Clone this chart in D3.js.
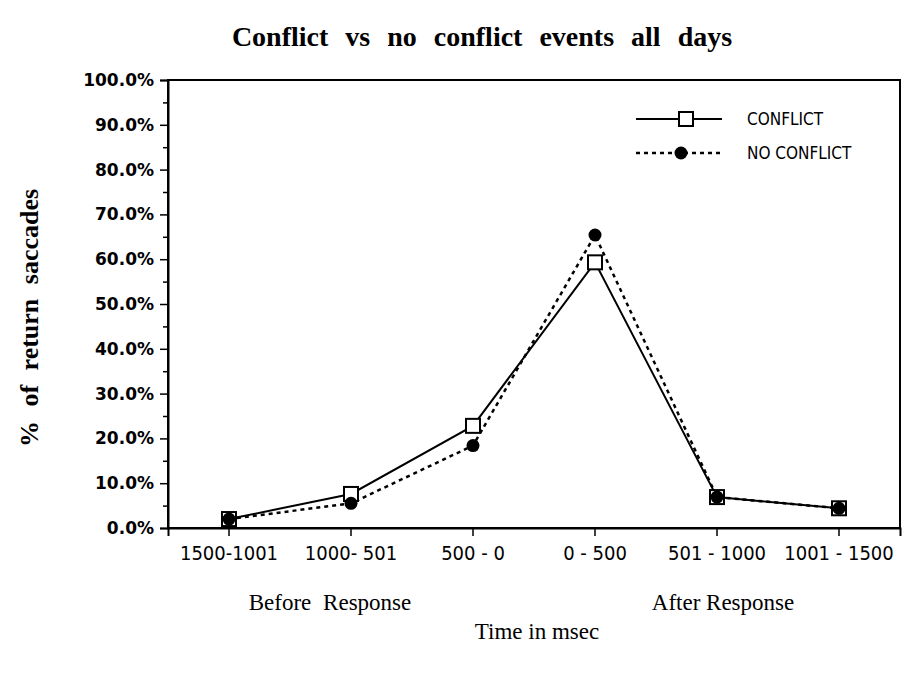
<!DOCTYPE html>
<html>
<head>
<meta charset="utf-8">
<script src="https://cdn.jsdelivr.net/npm/d3@7"></script>
<style>
  body { margin: 0; background: #fff; }
  svg { display: block; }
</style>
</head>
<body>
<svg id="chart"></svg>
<script>
// values (percent of return saccades)
let categories = ["1500-1001", "1000- 501", "500 - 0", "0 - 500", "501 - 1000", "1001 - 1500"]
let conflict = [2.0, 7.6, 22.8, 59.3, 6.9, 4.4]
let noConflict = [2.0, 5.5, 18.4, 65.4, 6.9, 4.4]
let yTicks = [0, 10, 20, 30, 40, 50, 60, 70, 80, 90, 100]

let w = 905, h = 674
let margin = { top: 80, right: 5, bottom: 146, left: 168 }

let serif = "'Liberation Serif', 'Times New Roman', serif"
let narrow = "'Liberation Sans Narrow', 'DejaVu Sans Condensed', sans-serif"

let svg = d3.select("#chart")
    .attr("width", w)
    .attr("height", h)

let xScale = d3.scaleBand()
    .domain(categories)
    .range([margin.left, w - margin.right])

let yScale = d3.scaleLinear()
    .domain([0, 100])
    .range([h - margin.bottom, margin.top])

let cx = d => xScale(d) + xScale.bandwidth() / 2

// frame round the plot
svg.append("rect")
    .attr("x", margin.left)
    .attr("y", margin.top)
    .attr("width", w - margin.right - margin.left)
    .attr("height", h - margin.bottom - margin.top)
    .attr("fill", "none")
    .attr("stroke", "#000")
    .attr("stroke-width", 2)

//minor ticks every 5%
let yMinor = d3.axisLeft(yScale)
    .tickValues(d3.range(5, 100, 10))
    .tickSize(5)
    .tickFormat("")

svg.append("g")
    .attr("transform", "translate(" + margin.left + ",0)")
    .call(yMinor)
    .call(g => g.select(".domain").remove())
    .selectAll("line").attr("stroke-width", 1.5)

let yAxis = d3.axisLeft(yScale)
    .tickValues(yTicks)
    .tickSize(8)
    .tickPadding(6)
    .tickFormat(d => d.toFixed(1) + "%")

svg.append("g")
    .attr("class", "y axis")
    .attr("transform", "translate(" + margin.left + ",0)")
    .call(yAxis)
    .call(g => g.select(".domain").attr("stroke-width", 2))
    .call(g => g.selectAll("line").attr("stroke-width", 1.5))
    .selectAll("text")
    .attr("font-family", "'DejaVu Sans', Verdana, sans-serif")
    .attr("font-weight", "bold")
    .attr("font-size", 17)
    .attr("fill", "#000")

let xAxis = d3.axisBottom(xScale)
    .tickSize(8)
    .tickPadding(10)

svg.append("g")
    .attr("class", "x axis")
    .attr("transform", "translate(0," + (h - margin.bottom) + ")")
    .call(xAxis)
    .call(g => g.select(".domain").attr("stroke-width", 2))
    .call(g => g.selectAll("line").attr("stroke-width", 1.5))
    .selectAll("text")
    .attr("font-family", narrow)
    .attr("font-size", 20)
    .attr("fill", "#000")

let line = d3.line()
    .x((d, i) => cx(categories[i]))
    .y(d => yScale(d))

svg.append("path")
    .datum(conflict)
    .attr("d", line)
    .attr("fill", "none")
    .attr("stroke", "#000")
    .attr("stroke-width", 2)

svg.append("path")
    .datum(noConflict)
    .attr("d", line)
    .attr("fill", "none")
    .attr("stroke", "#000")
    .attr("stroke-width", 2.5)
    .attr("stroke-dasharray", "4,4")

let sq = 14
svg.selectAll("rect.conflict")
    .data(conflict)
    .enter()
    .append("rect")
    .attr("class", "conflict")
    .attr("x", (d, i) => cx(categories[i]) - sq / 2)
    .attr("y", d => yScale(d) - sq / 2)
    .attr("width", sq)
    .attr("height", sq)
    .attr("fill", "#fff")
    .attr("stroke", "#000")
    .attr("stroke-width", 2)

svg.selectAll("circle.noconflict")
    .data(noConflict)
    .enter()
    .append("circle")
    .attr("class", "noconflict")
    .attr("cx", (d, i) => cx(categories[i]))
    .attr("cy", d => yScale(d))
    .attr("r", 6.5)
    .attr("fill", "#000")

// legend
let legend = svg.append("g")
legend.append("line")
    .attr("x1", 636).attr("x2", 722).attr("y1", 119).attr("y2", 119)
    .attr("stroke", "#000").attr("stroke-width", 2)
legend.append("rect")
    .attr("x", 686 - sq / 2).attr("y", 119 - sq / 2)
    .attr("width", sq).attr("height", sq)
    .attr("fill", "#fff").attr("stroke", "#000").attr("stroke-width", 2)
legend.append("text")
    .attr("x", 747).attr("y", 125)
    .attr("font-family", narrow)
    .attr("font-size", 17)
    .text("CONFLICT")

legend.append("line")
    .attr("x1", 636).attr("x2", 722).attr("y1", 153).attr("y2", 153)
    .attr("stroke", "#000").attr("stroke-width", 2.5)
    .attr("stroke-dasharray", "4,4")
legend.append("circle")
    .attr("cx", 681).attr("cy", 153).attr("r", 6.5)
    .attr("fill", "#000")
legend.append("text")
    .attr("x", 747).attr("y", 159)
    .attr("font-family", narrow)
    .attr("font-size", 17)
    .text("NO CONFLICT")

// titles
svg.append("text")
    .attr("x", 482).attr("y", 46)
    .attr("text-anchor", "middle")
    .attr("font-family", serif)
    .attr("font-weight", "bold")
    .attr("font-size", 28)
    .attr("word-spacing", 10)
    .text("Conflict vs no conflict events all days")

svg.append("text")
    .attr("transform", "translate(38,318) rotate(-90)")
    .attr("text-anchor", "middle")
    .attr("font-family", serif)
    .attr("font-weight", "bold")
    .attr("font-size", 26)
    .attr("word-spacing", 8)
    .text("% of return saccades")

svg.append("text")
    .attr("x", 330).attr("y", 610)
    .attr("text-anchor", "middle")
    .attr("font-family", serif)
    .attr("font-size", 23)
    .attr("word-spacing", 6)
    .text("Before Response")

svg.append("text")
    .attr("x", 723).attr("y", 610)
    .attr("text-anchor", "middle")
    .attr("font-family", serif)
    .attr("font-size", 23)
    .text("After Response")

svg.append("text")
    .attr("x", 537).attr("y", 639)
    .attr("text-anchor", "middle")
    .attr("font-family", serif)
    .attr("font-size", 23)
    .text("Time in msec")
</script>
</body>
</html>
